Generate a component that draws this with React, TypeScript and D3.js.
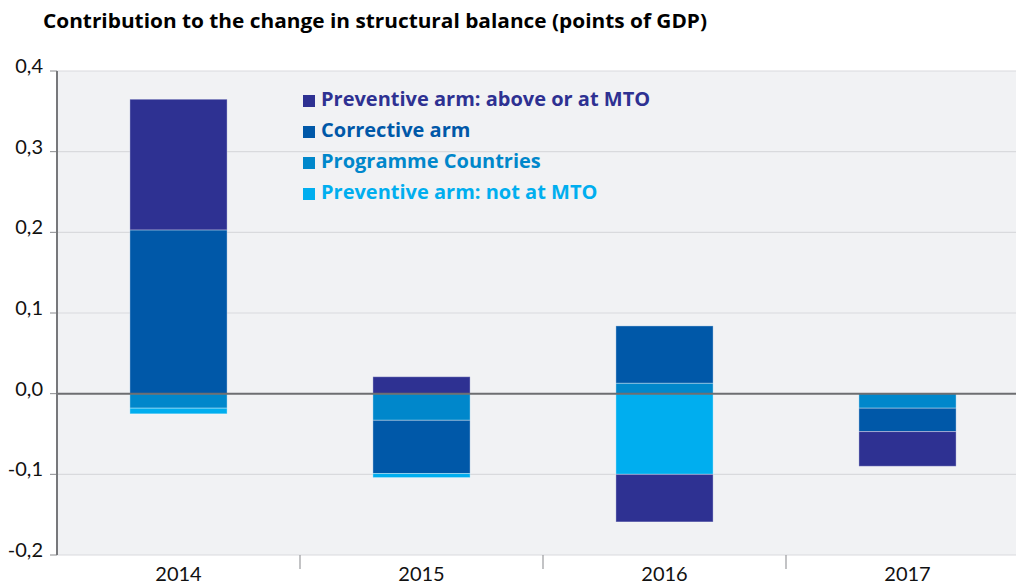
import React from "react"
import * as d3 from "d3"

// values (points of GDP)
const years = ["2014", "2015", "2016", "2017"]
const aboveMTO = [0.162, 0.021, -0.059, -0.043]
const corrective = [0.203, -0.066, 0.071, -0.029]
const programme = [-0.018, -0.033, 0.013, -0.018]
const notAtMTO = [-0.007, -0.005, -0.1, 0]
const yTicks = [-0.2, -0.1, 0, 0.1, 0.2, 0.3, 0.4]

const series = [
    {key: "programme", label: "Programme Countries", values: programme, color: "#0087cb"},
    {key: "corrective", label: "Corrective arm", values: corrective, color: "#0058a8"},
    {key: "notAtMTO", label: "Preventive arm: not at MTO", values: notAtMTO, color: "#00aeef"},
    {key: "aboveMTO", label: "Preventive arm: above or at MTO", values: aboveMTO, color: "#2e3192"},
]
const legendOrder = ["aboveMTO", "corrective", "programme", "notAtMTO"]

const W = 1016, H = 584
const margin = {top: 71, right: -13, bottom: 29, left: 57}
const font = "Lato, 'Open Sans', sans-serif"
const boldFont = "'Open Sans', Lato, sans-serif"

export default function App() {
    const rows = years.map((y, i) => {
        const r: any = {year: y}
        series.forEach(s => { r[s.key] = s.values[i] })
        return r
    })
    const stacked = d3.stack<any>()
        .keys(series.map(s => s.key))
        .offset(d3.stackOffsetDiverging)(rows)

    const x = d3.scaleBand()
        .domain(years)
        .range([margin.left, W - margin.right])
        .paddingInner(0.6)
        .paddingOuter(0.3)
    const y = d3.scaleLinear()
        .domain([-0.2, 0.4])
        .range([H - margin.bottom, margin.top])

    const fmt = (v: number) => d3.format(".1f")(v).replace(".", ",").replace("−", "-")
    const colorOf = (k: string) => series.find(s => s.key === k)!.color

    return (
        <svg width={W} height={H} style={{position: "absolute", left: 0, top: 0}} fontFamily={font}>
            <rect x={0} y={0} width={W} height={H} fill="#fff" />
            <text x={43} y={28} fontSize={19} fontWeight="bold" fill="#000" fontFamily={boldFont}
                textLength={664} lengthAdjust="spacingAndGlyphs">
                Contribution to the change in structural balance (points of GDP)
            </text>
            <rect x={margin.left} y={margin.top} width={W - margin.left} height={y(-0.2) - margin.top} fill="#f1f2f4" />

            {yTicks.map(t => (
                <g key={t}>
                    {t !== 0 && <line x1={margin.left} x2={W} y1={y(t)} y2={y(t)} stroke="#d9dadd" strokeWidth={1.2} />}
                    <line x1={margin.left - 7} x2={margin.left} y1={y(t)} y2={y(t)} stroke="#8a8b8e" strokeWidth={1} />
                    <text x={43} y={y(t) - 3} fontSize={20} textAnchor="end" dominantBaseline="middle" fill="#111">
                        {fmt(t)}
                    </text>
                </g>
            ))}

            {stacked.map(layer => (
                <g key={layer.key} fill={colorOf(layer.key)}>
                    {layer.map((d, i) => d[1] - d[0] === 0 ? null : (
                        <rect key={i}
                            x={x(years[i])!}
                            width={x.bandwidth()}
                            y={y(d[1])}
                            height={y(d[0]) - y(d[1])}
                            stroke="#ffffff" strokeOpacity={0.35} strokeWidth={1} />
                    ))}
                </g>
            ))}

            <line x1={margin.left} x2={W} y1={y(0)} y2={y(0)} stroke="#6d6e71" strokeWidth={2} />
            <line x1={margin.left} x2={margin.left} y1={margin.top} y2={y(-0.2)} stroke="#77787b" strokeWidth={2} />

            {years.slice(1).map(yr => {
                const sx = x(yr)! - x.step() * x.paddingInner() / 2
                return <line key={yr} x1={sx} x2={sx} y1={y(-0.2)} y2={y(-0.2) + 14} stroke="#9a9b9e" strokeWidth={1.2} />
            })}
            {years.map(yr => (
                <text key={yr} x={x(yr)! + x.bandwidth() / 2} y={581} fontSize={20} textAnchor="middle" fill="#111">{yr}</text>
            ))}

            {legendOrder.map((k, i) => {
                const s = series.find(s => s.key === k)!
                const ly = 101 + i * 31
                return (
                    <g key={k}>
                        <rect x={303} y={ly - 6} width={12} height={12} fill={s.color} />
                        <text x={321} y={ly} dominantBaseline="middle" fontSize={20} fontWeight="bold"
                            fontFamily={boldFont} fill={s.color}>{s.label}</text>
                    </g>
                )
            })}
        </svg>
    )
}
